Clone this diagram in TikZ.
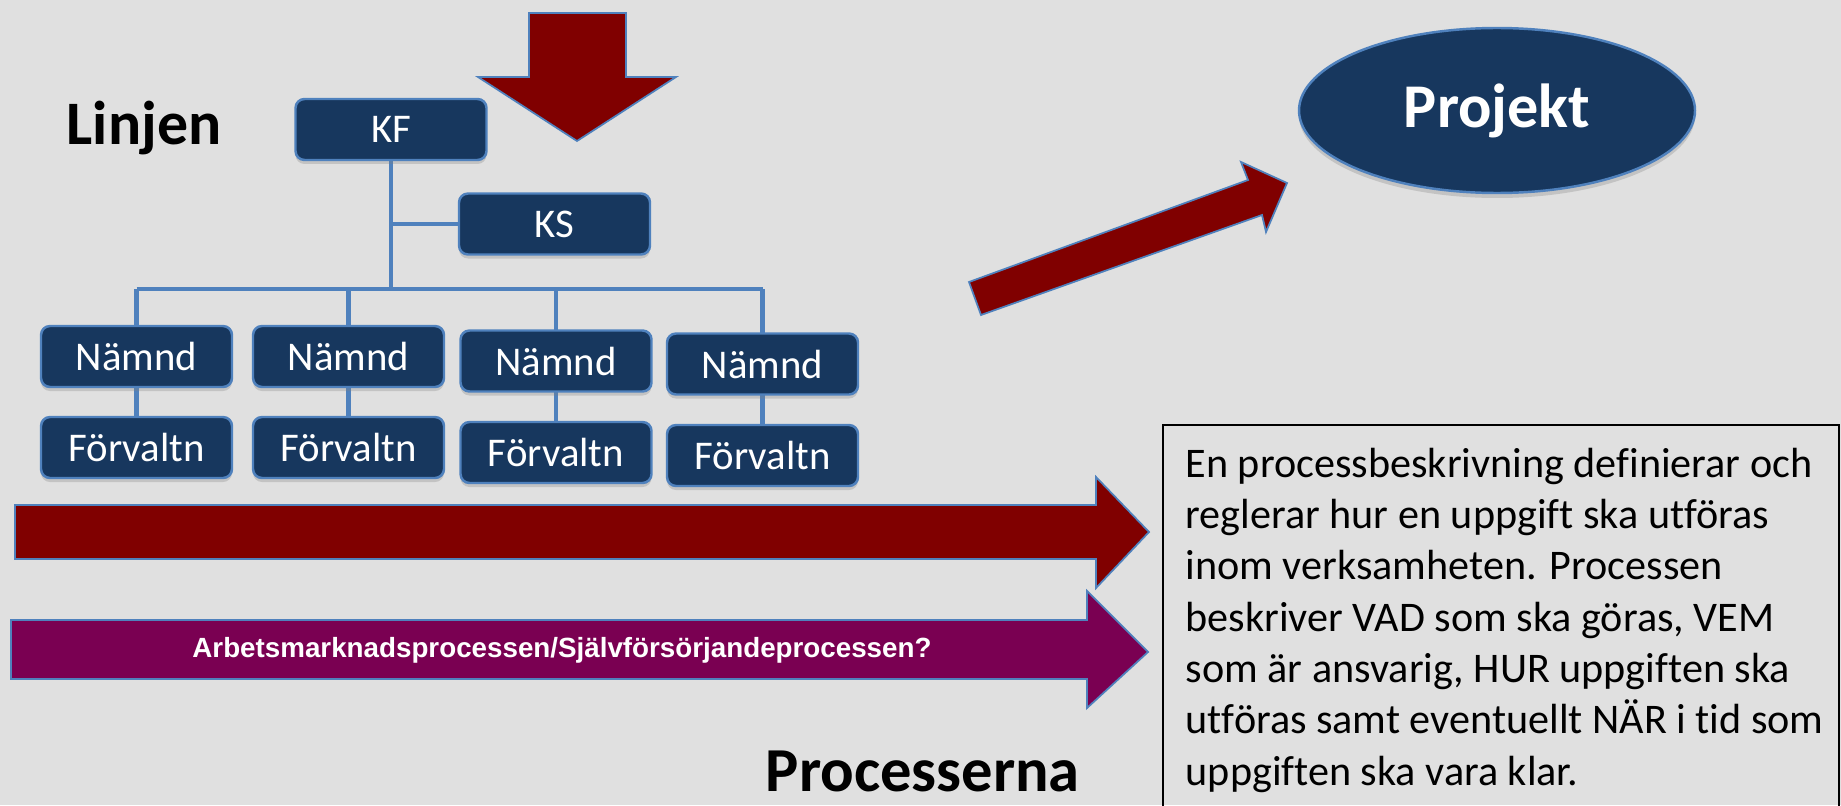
\documentclass[tikz,border=0pt]{standalone}
\usepackage{fontspec}
\setmainfont[Ligatures=NoCommon]{Carlito}
\newfontfamily\arialfont{Liberation Sans}
\usetikzlibrary{shapes.geometric,shadows}
\definecolor{bggray}{HTML}{E0E0E0}
\definecolor{navy}{HTML}{17375E}
\definecolor{lineblue}{HTML}{4F81BD}
\definecolor{darkred}{HTML}{800000}
\definecolor{purp}{HTML}{7A0052}

\begin{document}
\begin{tikzpicture}[x=0.1mm, y=-0.1mm,
    orgbox/.style={draw=lineblue, line width=0.7pt, fill=navy, rounded corners=0.9mm,
      minimum width=19.1mm, minimum height=6.1mm, inner sep=0pt, text=white,
      font=\fontsize{11.6}{13}\selectfont,
      drop shadow={opacity=0.3, shadow xshift=0pt, shadow yshift=-0.4mm}},
    link/.style={lineblue, line width=1.4pt},
    fatarrow/.style={draw=lineblue, line width=0.5pt}]

    \fill[bggray] (0,0) rectangle (1841,805);
    \useasboundingbox (0,0) rectangle (1841,805);

    % linjen
    \node[anchor=base west, inner sep=0pt, font=\fontsize{17.6}{20}\selectfont\bfseries] (linjen) at (66,145) {Linjen};
    \coordinate (hub) at (391,289);
    \draw[link] (391,161) -- (hub);
    \draw[link] (136.5,289) -- (762.5,289);
    \draw[link] (136.5,289) -- (136.5,330);
    \draw[link] (348.5,289) -- (348.5,330);
    \draw[link] (556,289) -- (556,335);
    \draw[link] (762.5,289) -- (762.5,338);
    \draw[link] (136.5,380) -- (136.5,420);
    \draw[link] (348.5,380) -- (348.5,420);
    \draw[link] (556,385) -- (556,425);
    \draw[link] (762.5,390) -- (762.5,428);
    \draw[link] (391,224) -- (480,224);

    \node[orgbox] (kf) at (391,129.5) {KF};
    \node[orgbox] (ks) at (554.5,224) {KS};
    \node[orgbox] (n1) at (136.5,356.5) {Nämnd};
    \node[orgbox] (n2) at (348.5,356.5) {Nämnd};
    \node[orgbox] (n3) at (556,361) {Nämnd};
    \node[orgbox] (n4) at (762.5,364) {Nämnd};
    \node[orgbox] (f1) at (136.5,447.5) {Förvaltn};
    \node[orgbox] (f2) at (348.5,447.5) {Förvaltn};
    \node[orgbox] (f3) at (556,452.5) {Förvaltn};
    \node[orgbox] (f4) at (762.5,455.5) {Förvaltn};

    % pilar
    \filldraw[fatarrow, fill=darkred] (529,13) -- (626,13) -- (626,77) -- (676,77) -- (577,141) -- (478,77) -- (529,77) -- cycle;
    \filldraw[fatarrow, fill=darkred] (969,282) -- (1248,180) -- (1241,162) -- (1287,183) -- (1266,232) -- (1262,215) -- (981,315) -- cycle;
    \filldraw[fatarrow, fill=darkred] (15,505) -- (1096,505) -- (1096,477) -- (1149,532) -- (1096,588) -- (1096,559) -- (15,559) -- cycle;
    \filldraw[fatarrow, fill=purp] (11,620) -- (1087,620) -- (1087,591) -- (1148,652) -- (1087,708) -- (1087,679) -- (11,679) -- cycle;
    \node[text=white, font=\arialfont\bfseries\fontsize{7.9}{9}\selectfont] (arb) at (562,650) {Arbetsmarknadsprocessen/Självförsörjandeprocessen?};

    % projekt
    \node[ellipse, draw=lineblue, line width=0.7pt, fill=navy, minimum width=39.6mm, minimum height=16.5mm,
      inner sep=0pt, text=white, font=\fontsize{17.7}{20}\selectfont\bfseries,
      drop shadow={opacity=0.3, shadow xshift=0pt, shadow yshift=-0.5mm}] (proj) at (1497,110.5) {Projekt};

    \node[anchor=base west, inner sep=0pt, font=\fontsize{17.8}{20}\selectfont\bfseries] (proc) at (765,791) {Processerna};

    % textruta
    \draw[line width=0.8pt] (1163,830) |- (1839,425) -- (1839,830);
    \node[anchor=base west, inner sep=0pt, align=left, font=\fontsize{12}{14.6}\selectfont] (desc) at (1185,785)
      {En processbeskrivning definierar och\\
       reglerar hur en uppgift ska utföras\\
       inom verksamheten. Processen\\
       beskriver VAD som ska göras, VEM\\
       som är ansvarig, HUR uppgiften ska\\
       utföras samt eventuellt NÄR i tid som\\
       uppgiften ska vara klar.};

\end{tikzpicture}
\end{document}
